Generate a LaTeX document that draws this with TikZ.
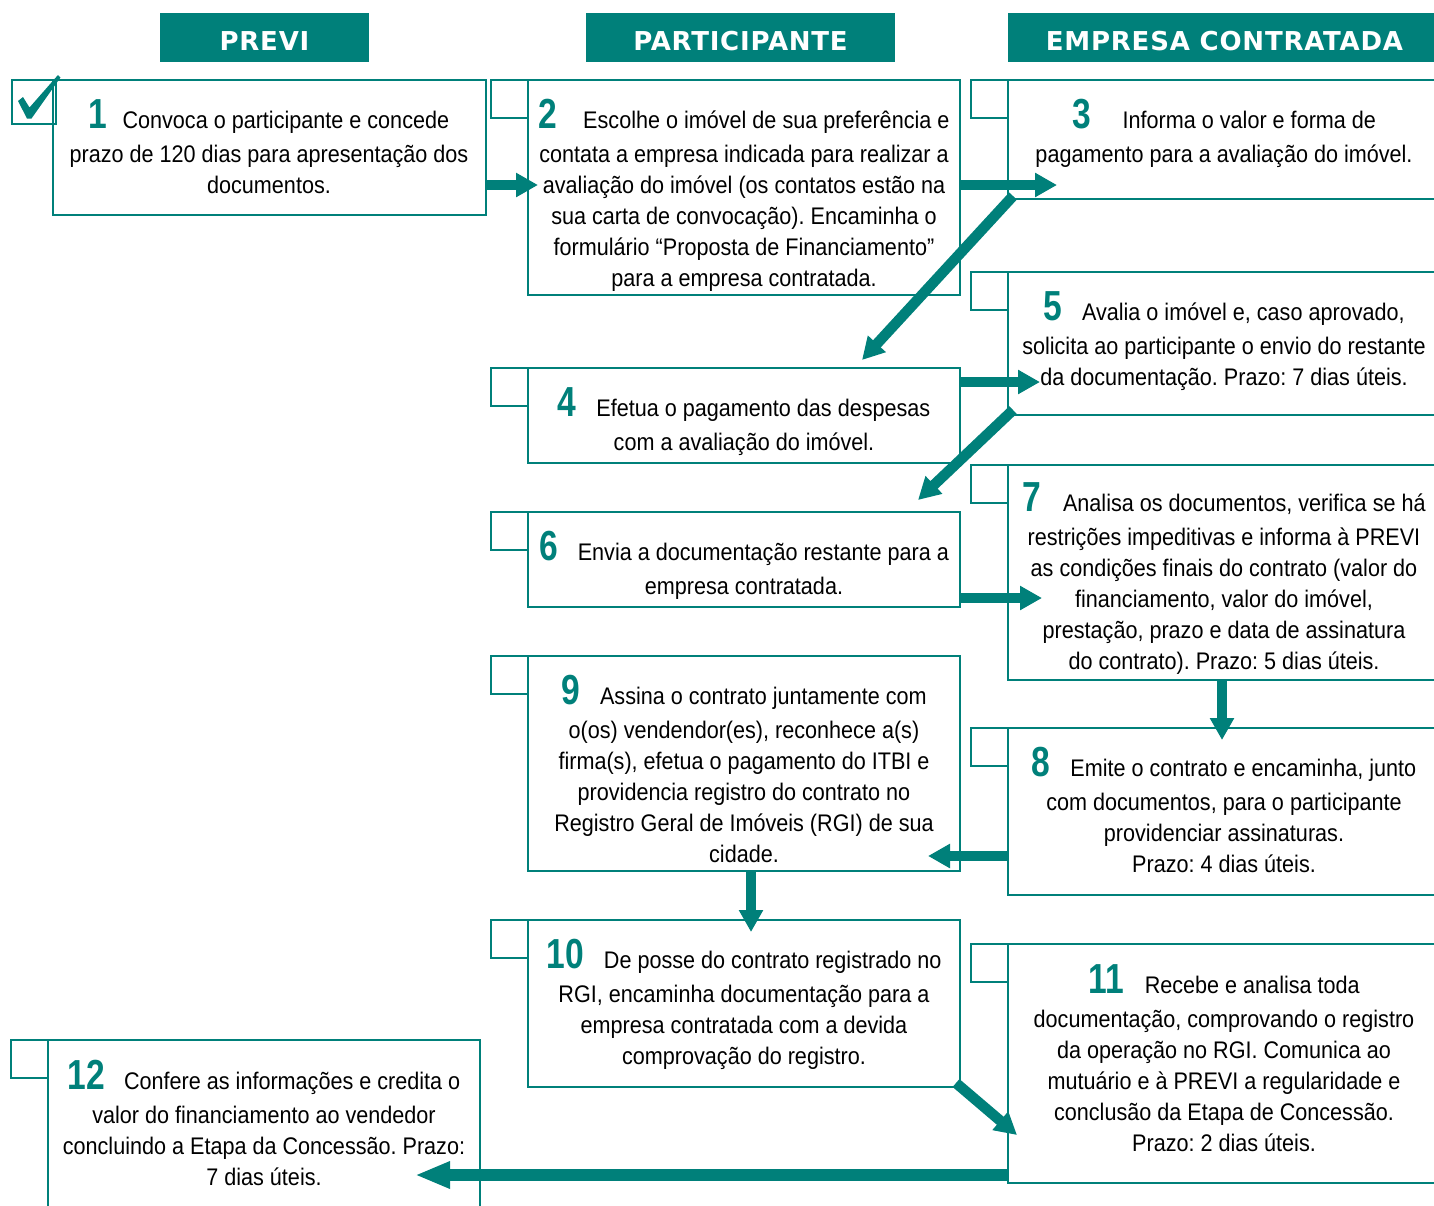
\documentclass[tikz,border=0pt]{standalone}
\usepackage{fontspec}
\setmainfont{Liberation Sans}[FakeStretch=0.9]
\newfontfamily\numfont{Liberation Sans}[FakeStretch=0.8]
\newfontfamily\headfont{DejaVu Sans}[LetterSpace=3]
\usetikzlibrary{arrows.meta,calc}
\definecolor{previteal}{RGB}{0,128,122}
\frenchspacing

% big teal step number
\newcommand\stepno[1]{{\numfont\bfseries\fontsize{42}{42}\selectfont\color{previteal}#1}}
% centred block of lines, baseline on the first line
\newcommand\steplines[1]{\begin{tabular}[t]{@{}c@{}}#1\end{tabular}}

\tikzset{
  stepbox/.style={draw=previteal, line width=2pt, inner sep=0pt, outer sep=0pt},
  tabbox/.style={draw=previteal, line width=2pt, inner sep=0pt, outer sep=0pt,
                 minimum width=37pt, minimum height=38pt, anchor=north east},
  steptext/.style={anchor=base, inner sep=0pt, font=\fontsize{24}{31}\selectfont},
  headbox/.style={fill=previteal, text=white, inner sep=0pt,
                  text height=25pt, text depth=0pt, minimum height=49pt,
                  font=\headfont\bfseries\fontsize{26}{30}\selectfont},
  flow/.style={draw=previteal, line width=10.5pt,
               -{Triangle[length=22pt,width=23pt]}},
  bigflow/.style={draw=previteal, line width=12pt,
               -{Triangle[length=35pt,width=25pt]}},
}

\begin{document}
\begin{tikzpicture}[x=1pt,y=-1pt]
\useasboundingbox (0,0) rectangle (1434,1205);
\clip (0,0) rectangle (1434,1205);

% column headers
\node[headbox, minimum width=209pt] (hprevi) at (264.5,37.5) {PREVI};
\node[headbox, minimum width=309pt] (hpart)  at (740.5,37.5) {PARTICIPANTE};
\node[headbox, minimum width=433pt] (hemp)   at (1224.5,37.5) {EMPRESA CONTRATADA};

% step frames
\node[stepbox, minimum width=433pt, minimum height=135pt] (s1)  at (269.5,147.5) {};
\node[stepbox, minimum width=432pt, minimum height=215pt] (s2)  at (744,187.5) {};
\node[stepbox, minimum width=442pt, minimum height=119pt] (s3)  at (1229,139.5) {};
\node[stepbox, minimum width=432pt, minimum height=95pt]  (s4)  at (744,415.5) {};
\node[stepbox, minimum width=442pt, minimum height=143pt] (s5)  at (1229,343.5) {};
\node[stepbox, minimum width=432pt, minimum height=95pt]  (s6)  at (744,559.5) {};
\node[stepbox, minimum width=442pt, minimum height=215pt] (s7)  at (1229,572.5) {};
\node[stepbox, minimum width=442pt, minimum height=167pt] (s8)  at (1229,811.5) {};
\node[stepbox, minimum width=432pt, minimum height=215pt] (s9)  at (744,763.5) {};
\node[stepbox, minimum width=432pt, minimum height=167pt] (s10) at (744,1003.5) {};
\node[stepbox, minimum width=442pt, minimum height=239pt] (s11) at (1229,1063.5) {};
\node[stepbox, minimum width=432pt, minimum height=180pt] (s12) at (264,1130) {};

% corner tabs
\node[stepbox, line width=2.5pt, minimum width=44pt, minimum height=44pt, anchor=north east]
  (k1) at ($(s1.north west)+(3,0)$) {};
\fill[previteal] (18,101) -- (23,97) -- (29.5,107.5) -- (58,75) -- (60.5,77.5)
  -- (31.5,118.5) -- (27,118.5) -- cycle;
\foreach \s in {2,...,12}{
  \node[tabbox] (k\s) at (s\s.north west) {};
}

% step texts
\node[steptext] (t1) at (269,128) {\steplines{\stepno{1}\hspace{15pt}Convoca o participante e concede\\[3pt]
  prazo de 120 dias para apresentação dos\\ documentos.}};
\node[steptext] (t2) at (744,128) {\steplines{\stepno{2}\hspace{26pt}Escolhe o imóvel de sua preferência e\\[3pt]
  contata a empresa indicada para realizar a\\ avaliação do imóvel (os contatos estão na\\
  sua carta de convocação). Encaminha o\\ formulário “Proposta de Financiamento”\\
  para a empresa contratada.}};
\node[steptext] (t3) at (1224,128) {\steplines{\stepno{3}\hspace{32pt}Informa o valor e forma de\\[3pt]
  pagamento para a avaliação do imóvel.}};
\node[steptext] (t4) at (744,416) {\steplines{\stepno{4}\hspace{20pt}Efetua o pagamento das despesas\\[3pt]
  com a avaliação do imóvel.}};
\node[steptext] (t5) at (1224,320) {\steplines{\stepno{5}\hspace{20pt}Avalia o imóvel e, caso aprovado,\\[3pt]
  solicita ao participante o envio do restante\\ da documentação. Prazo: 7 dias úteis.}};
\node[steptext] (t6) at (744,560) {\steplines{\stepno{6}\hspace{20pt}Envia a documentação restante para a\\[3pt]
  empresa contratada.}};
\node[steptext] (t7) at (1224,511) {\steplines{\stepno{7}\hspace{22pt}Analisa os documentos, verifica se há\\[3pt]
  restrições impeditivas e informa à PREVI\\ as condições finais do contrato (valor do\\
  financiamento, valor do imóvel,\\ prestação, prazo e data de assinatura\\
  do contrato). Prazo: 5 dias úteis.}};
\node[steptext] (t8) at (1224,776) {\steplines{\stepno{8}\hspace{20pt}Emite o contrato e encaminha, junto\\[3pt]
  com documentos, para o participante\\ providenciar assinaturas.\\ Prazo: 4 dias úteis.}};
\node[steptext] (t9) at (744,704) {\steplines{\stepno{9}\hspace{20pt}Assina o contrato juntamente com\\[3pt]
  o(os) vendendor(es), reconhece a(s)\\ firma(s), efetua o pagamento do ITBI e\\
  providencia registro do contrato no\\ Registro Geral de Imóveis (RGI) de sua\\ cidade.}};
\node[steptext] (t10) at (744,968) {\steplines{\stepno{10}\hspace{20pt}De posse do contrato registrado no\\[3pt]
  RGI, encaminha documentação para a\\ empresa contratada com a devida\\ comprovação do registro.}};
\node[steptext] (t11) at (1224,993) {\steplines{\stepno{11}\hspace{21pt}Recebe e analisa toda\\[3pt]
  documentação, comprovando o registro\\ da operação no RGI. Comunica ao\\
  mutuário e à PREVI a regularidade e\\ conclusão da Etapa de Concessão.\\ Prazo: 2 dias úteis.}};
\node[steptext] (t12) at (264,1089) {\steplines{\stepno{12}\hspace{19pt}Confere as informações e credita o\\[3pt]
  valor do financiamento ao vendedor\\ concluindo a Etapa da Concessão. Prazo:\\ 7 dias úteis.}};

% flow arrows
\draw[flow] ($(s1.south east)+(0,-30)$) -- ($(s2.north west)+(10,105)$);
\draw[flow] ($(s2.north east)+(0,105)$) -- ($(s3.south west)+(49,-14)$);
\draw[flow] ($(s3.south west)+(5,-3)$) -- ($(s4.north east)+(-98,-8)$);
\draw[flow] ($(s4.north east)+(0,14)$) -- ($(s5.south west)+(32,-33)$);
\draw[flow] ($(s5.south west)+(5,-5)$) -- ($(s6.north east)+(-42,-12)$);
\draw[flow] ($(s6.south east)+(0,-9)$) -- ($(s7.north west)+(34,133)$);
\draw[flow] ($(s7.south west)+(214,0)$) -- ($(s8.north west)+(214,12)$);
\draw[flow] ($(s8.south west)+(0,-39)$) -- ($(s9.south east)+(-32,-15)$);
\draw[flow] ($(s9.south west)+(223,0)$) -- ($(s10.north west)+(223,12)$);
\draw[flow] ($(s10.south east)+(-4,-4)$) -- ($(s11.north west)+(9,191)$);
\draw[bigflow] ($(s11.south west)+(0,-8)$) -- ($(s12.north east)+(-65,135)$);
\end{tikzpicture}
\end{document}
